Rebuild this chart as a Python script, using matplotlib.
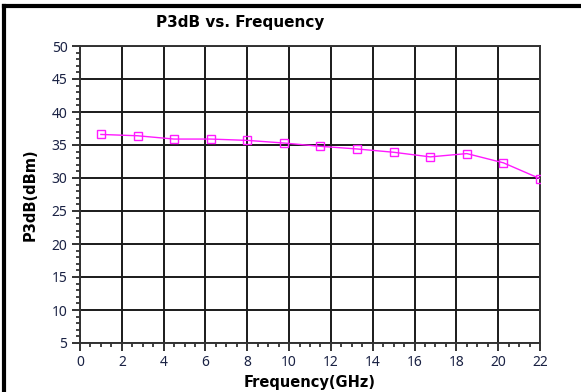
import numpy as np
import matplotlib
matplotlib.use("Agg")
import matplotlib.pyplot as plt
from matplotlib.ticker import MultipleLocator
from matplotlib.lines import Line2D

# data
freq_ghz = [1.0, 2.75, 4.5, 6.25, 8.0, 9.75, 11.5, 13.25, 15.0, 16.75, 18.5, 20.25, 22.0]
p3db_dbm = [36.6, 36.4, 35.9, 35.9, 35.7, 35.3, 34.8, 34.4, 33.9, 33.2, 33.7, 32.3, 29.9]

TITLE = "P3dB vs. Frequency"
XLABEL = "Frequency(GHz)"
YLABEL = "P3dB(dBm)"
LINE_COLOR = "#ff1aff"

fig = plt.figure(figsize=(5.81, 3.92), dpi=100)
ax = fig.add_axes([80 / 581, 1 - 343 / 392, 460 / 581, 297 / 392])

ax.plot(freq_ghz, p3db_dbm, "-s", color=LINE_COLOR, lw=1.0, ms=6,
        mfc="none", mec=LINE_COLOR, mew=1.0, zorder=3)

ax.set_xlim(0, 22)
ax.set_ylim(5, 50)
ax.xaxis.set_major_locator(MultipleLocator(2))
ax.xaxis.set_minor_locator(MultipleLocator(0.5))
ax.yaxis.set_major_locator(MultipleLocator(5))
ax.yaxis.set_minor_locator(MultipleLocator(1))
ax.grid(True, which="major", color="#1a1a1a", lw=1.4)
ax.set_axisbelow(True)
for s in ax.spines.values():
    s.set_color("#333333"); s.set_linewidth(1.4)

ax.tick_params(which="major", direction="out", length=6, width=1.3,
               colors="#222222", labelsize=10, pad=3)
ax.tick_params(which="minor", direction="out", length=3, width=1.2, colors="#222222")
for lab in ax.get_xticklabels() + ax.get_yticklabels():
    lab.set_fontfamily("Noto Sans")
    lab.set_color("#1a2244")

ax.set_xlabel(XLABEL, fontsize=10.5, fontweight="bold", labelpad=3)
ax.set_ylabel(YLABEL, fontsize=10.5, fontweight="bold", labelpad=10)
fig.text(240 / 581, 1 - 23 / 392, TITLE, ha="center", va="center",
         fontsize=11, fontweight="bold")

# outer window frame (top and left edges)
fig.add_artist(Line2D([3.5 / 581, 3.5 / 581], [0, 1 - 6 / 392], transform=fig.transFigure,
                      color="black", lw=3))
fig.add_artist(Line2D([3.5 / 581, 1], [1 - 6 / 392, 1 - 6 / 392], transform=fig.transFigure,
                      color="black", lw=3))

fig.savefig("out.png", dpi=100)
